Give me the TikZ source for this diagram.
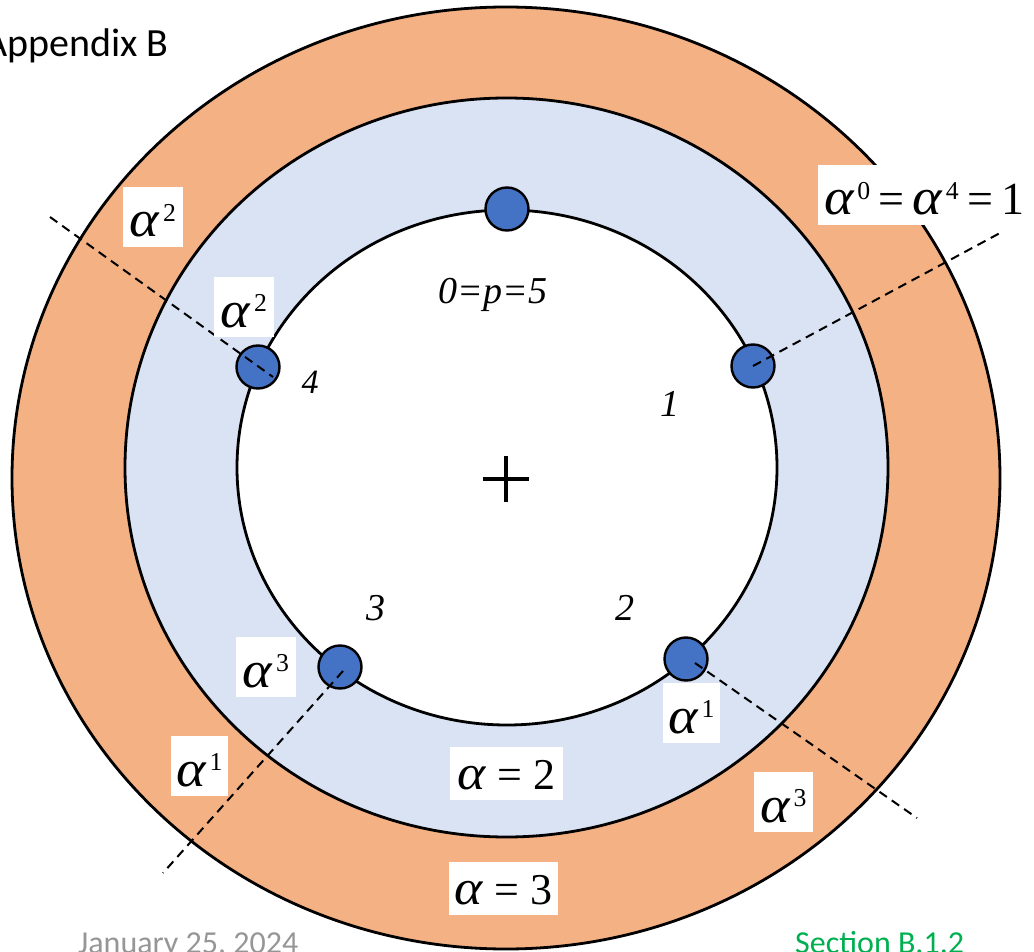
\documentclass[tikz,border=0pt]{standalone}
\usepackage{fontspec}
\usepackage{graphicx}
\setmainfont{Liberation Serif}
\newfontfamily\calib{Carlito}
\definecolor{ringorange}{HTML}{F4B183}
\definecolor{ringblue}{HTML}{DAE3F3}
\definecolor{dotblue}{HTML}{4472C4}
\definecolor{dategray}{RGB}{150,150,150}
\definecolor{secgreen}{HTML}{00B050}
\newcommand\supr[1]{\kern0.06em\raisebox{0.34em}{\scalebox{0.56}{\upshape #1}}}
\newcommand\alf{\scalebox{1.22}[1.12]{\textit{α}}}
\newcommand\eqsp{\kern0.18em}
\begin{document}
\begin{tikzpicture}[x=1pt,y=-1pt,
  ring/.style={draw=black,line width=2.8pt},
  dot/.style={circle,draw=black,line width=2.4pt,fill=dotblue,minimum size=43pt,inner sep=0pt},
  dline/.style={draw=black,line width=2pt,dash pattern=on 9pt off 6pt},
  lab/.style={fill=white,inner xsep=0pt,inner ysep=0pt,font=\fontsize{46}{46}\selectfont,text height=50pt,text depth=10pt,anchor=base,minimum width=60pt},
  eqlab/.style={lab,font=\fontsize{44}{44}\selectfont,text height=42pt,text depth=11pt},
  num/.style={font=\fontsize{38}{38}\selectfont\itshape,anchor=base,inner sep=0pt}]
\useasboundingbox (0,0) rectangle (1034,952);
\clip (0,0) rectangle (1034,952);
% rings
\path[ring,fill=ringorange] (506,478) ellipse [x radius=494pt, y radius=471pt];
\path[ring,fill=ringblue] (506.5,467.5) ellipse [x radius=381.5pt, y radius=369.5pt];
\path[ring,fill=white] (507,467.5) ellipse [x radius=270pt, y radius=257.5pt];
% centre cross
\coordinate (cxl) at (483,479);
\coordinate (cxr) at (529,479);
\coordinate (cyt) at (506,456);
\coordinate (cyb) at (506,502);
\draw[line width=3.2pt] (cxl) -- (cxr);
\draw[line width=3.2pt] (cyt) -- (cyb);
% dots
\node[dot] (dot0) at (507,209) {};
\node[dot] (dot1) at (753,366) {};
\node[dot] (dot2) at (686,659) {};
\node[dot] (dot3) at (340,667) {};
\node[dot] (dot4) at (258,367) {};
% dashed lines
\coordinate (e1) at (1000,233);
\coordinate (s4) at (50,217);
\coordinate (e4) at (273,377);
\coordinate (s2) at (695,663);
\coordinate (e2) at (917,818);
\coordinate (s3) at (343,671);
\coordinate (e3) at (163,873);
\draw[dline] (dot1.center) -- (e1);
\draw[dline] (s4) -- (e4);
\draw[dline] (s2) -- (e2);
\draw[dline] (s3) -- (e3);
% numbers
\node[num] (n0) at (493,303) {0=p=5};
\node[num] (n1) at (670,416) {1};
\node[num] (n2) at (625,620) {2};
\node[num] (n3) at (376,620) {3};
\node[num,font=\fontsize{34}{34}\selectfont\itshape] (n4) at (310,393) {4};
% labels
\node[lab,anchor=base west,inner xsep=6pt] (l0) at (818,215) {\alf\supr{0}\eqsp=\eqsp\alf\supr{4}\eqsp=\eqsp1};
\node[lab] (la2o) at (153,237) {\alf\supr{2}};
\node[lab] (la2i) at (244,327) {\alf\supr{2}};
\node[lab,minimum width=57pt] (la1r) at (691.5,733) {\alf\supr{1}};
\node[lab,minimum width=59pt] (la3r) at (783.5,822) {\alf\supr{3}};
\node[lab] (la3l) at (266,687) {\alf\supr{3}};
\node[lab,minimum width=57pt] (la1l) at (199.5,786) {\alf\supr{1}};
\node[eqlab,minimum width=113pt] (leq2) at (506.5,789) {\alf\ = 2};
\node[eqlab,minimum width=109pt] (leq3) at (503.5,904) {\alf\ = 3};
% page texts
\node[anchor=base west,inner sep=0pt,font=\calib\fontsize{40}{40}\selectfont] (app) at (-16,57) {Appendix B};
\node[anchor=base west,inner sep=0pt,font=\calib\fontsize{32}{32}\selectfont,text=dategray] (date) at (78,953) {January 25, 2024};
\node[anchor=base west,inner sep=0pt,font=\calib\fontsize{32}{32}\selectfont,text=secgreen] (sec) at (795,953) {Section B.1.2};
\end{tikzpicture}
\end{document}
